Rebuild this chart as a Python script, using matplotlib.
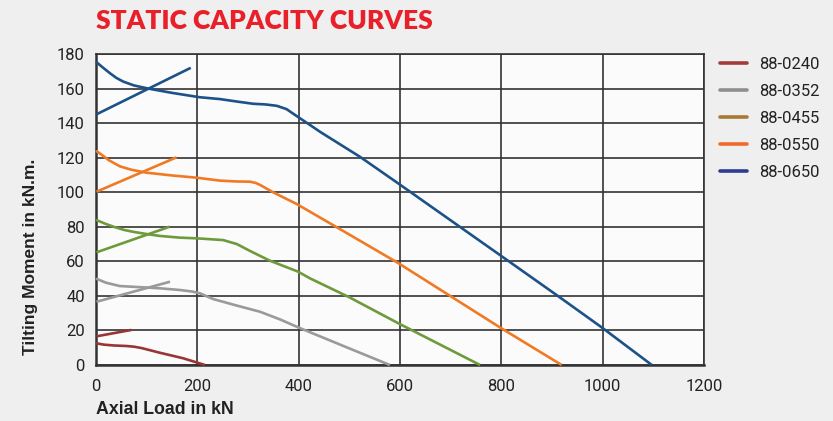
import matplotlib
matplotlib.use("Agg")
import matplotlib.pyplot as plt
from matplotlib.lines import Line2D
from matplotlib import font_manager

# ---------------- data ----------------
models = ["88-0240", "88-0352", "88-0455", "88-0550", "88-0650"]

red_x = [0, 15, 35, 60, 75, 90, 126, 172, 215]
red_y = [12.6, 11.8, 11.3, 11.0, 10.6, 9.8, 7.1, 3.9, 0]
red_cross_x = [1, 70]
red_cross_y = [16.6, 20.3]

grey_x = [0, 20, 47, 90, 126, 166, 190, 205, 231, 274, 324, 363, 399, 490, 580]
grey_y = [50, 47.6, 45.7, 45.0, 44.4, 43.4, 42.5, 41.5, 38.2, 34.7, 30.8, 26.4, 21.8, 10.8, 0]
grey_cross_x = [1, 146]
grey_cross_y = [36.6, 48.2]

green_x = [0, 18, 37, 55, 73, 100, 126, 166, 200, 251, 278, 304, 343, 399, 422, 500, 597, 758]
green_y = [84, 81.8, 79.8, 78.2, 77.1, 75.8, 74.7, 73.7, 73.3, 72.3, 70, 66, 60.4, 54, 50.2, 39.2, 24.1, 0]
green_cross_x = [1, 145]
green_cross_y = [65.2, 80]

orange_x = [0, 12, 25, 47, 70, 100, 150, 199, 245, 280, 304, 315, 324, 350, 396, 500, 597, 700, 797, 919]
orange_y = [124, 121.5, 118.6, 115, 113, 111.3, 109.7, 108.4, 106.7, 106.2, 106.1, 105.4, 104.2, 99.9, 93.2, 75.5, 58.9, 39.8, 21.8, 0]
orange_cross_x = [1, 159]
orange_cross_y = [100.3, 120.2]

blue_x = [0, 13, 27, 40, 54, 75, 103, 150, 204, 245, 280, 310, 335, 357, 376, 398, 420, 442, 521, 597, 718, 797, 909, 998, 1097]
blue_y = [175.5, 172.3, 169, 166.2, 164, 161.8, 160, 157.5, 155, 153.9, 152.4, 151.2, 150.8, 150, 148.1, 143.7, 139.4, 135, 120.5, 105, 80, 63.7, 40.5, 21.8, 0]
blue_cross_x = [1, 187]
blue_cross_y = [145.1, 172]

x_ticks = [0, 200, 400, 600, 800, 1000, 1200]
y_ticks = [0, 20, 40, 60, 80, 100, 120, 140, 160, 180]

curve_colors = ["#983537", "#9a9a9a", "#6f9a3c", "#f07a24", "#1c5287"]
legend_colors = ["#a23b3b", "#8e8e8e", "#a87a36", "#f26a2c", "#2e3b93"]

# ---------------- fonts ----------------
available = {f.name for f in font_manager.fontManager.ttflist}
narrow = "Liberation Sans Narrow" if "Liberation Sans Narrow" in available else "Roboto"

W, H = 833, 421
fig = plt.figure(figsize=(W / 100, H / 100), dpi=100)
fig.patch.set_facecolor("#efefef")

ax = fig.add_axes([96 / W, 1 - 365 / H, (704 - 96) / W, (365 - 54) / H])
ax.set_facecolor("#fbfbfb")

lw = 1.9
series = [
    (red_x, red_y, red_cross_x, red_cross_y),
    (grey_x, grey_y, grey_cross_x, grey_cross_y),
    (green_x, green_y, green_cross_x, green_cross_y),
    (orange_x, orange_y, orange_cross_x, orange_cross_y),
    (blue_x, blue_y, blue_cross_x, blue_cross_y),
]
for (mx, my, cx, cy), c in zip(series, curve_colors):
    ax.plot(mx, my, color=c, lw=lw, solid_capstyle="butt", solid_joinstyle="round",
            zorder=3, clip_on=False)
    ax.plot(cx, cy, color=c, lw=lw, solid_capstyle="butt", zorder=3, clip_on=False)

ax.set_xlim(0, 1200)
ax.set_ylim(0, 180)
ax.set_xticks(x_ticks)
ax.set_yticks(y_ticks)
ax.grid(True, color="#333333", lw=1.2, zorder=1)
ax.set_axisbelow(True)
for s in ax.spines.values():
    s.set_color("#333333")
    s.set_linewidth(1.2)
ax.spines["left"].set_linewidth(1.8)
ax.spines["bottom"].set_linewidth(1.8)
ax.tick_params(length=0, labelsize=12, colors="#222222")
ax.tick_params(axis="x", pad=10)
ax.tick_params(axis="y", pad=8)
for lab in ax.get_xticklabels() + ax.get_yticklabels():
    lab.set_fontfamily(narrow)

fig.text(96 / W, 1 - 21 / H, "STATIC CAPACITY CURVES", color="#e8202a",
         fontsize=19, fontweight="heavy", family="Lato", va="center", ha="left")
fig.text(96 / W, 1 - 410 / H, "Axial Load in kN", color="#222222",
         fontsize=12.8, fontweight="bold", family="Liberation Sans", va="center", ha="left")
fig.text(31 / W, 1 - 257 / H, "Tilting Moment in kN.m.", color="#222222",
         fontsize=12.5, fontweight="bold", family="Liberation Sans", rotation=90,
         va="center", ha="center")

handles = [Line2D([0], [0], color=c, lw=2.6, solid_capstyle="round") for c in legend_colors]
leg = fig.legend(handles, models, loc="upper left",
                 bbox_to_anchor=(720 / W, 1 - 57 / H), frameon=False,
                 prop={"family": narrow, "size": 12}, handlelength=1.6,
                 handletextpad=0.75, labelspacing=0.72, borderpad=0, borderaxespad=0)
for t in leg.get_texts():
    t.set_color("#222222")

fig.savefig("out.png", dpi=100, facecolor=fig.get_facecolor())
